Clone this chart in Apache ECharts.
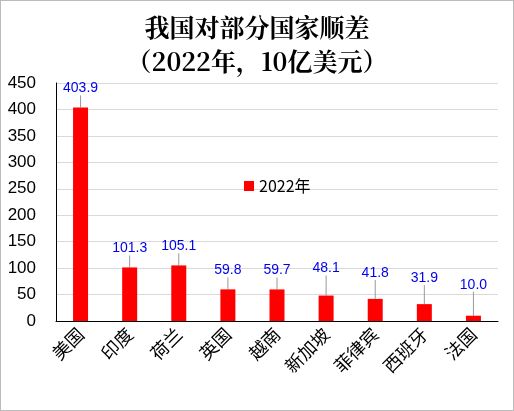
<!DOCTYPE html><html><head><meta charset="utf-8"><script src="https://cdn.jsdelivr.net/npm/echarts@6/dist/echarts.min.js"></script>
<style>html,body{margin:0;padding:0}#c{width:512px;height:409px;border:1px solid #bbb}</style></head><body><div id="c"></div><script>
const categories=['美国','印度','荷兰','英国','越南','新加坡','菲律宾','西班牙','法国'];
const values=[403.9,101.3,105.1,59.8,59.7,48.1,41.8,31.9,10.0];
const labelLift=[0,0,0,0,0,8,7,7,12];
const ch=echarts.init(document.getElementById('c'));
ch.setOption({
title:{text:'我国对部分国家顺差\n（2022年，10亿美元）',left:'center',top:4,textStyle:{fontFamily:'Noto Serif CJK SC, serif',fontSize:25,fontWeight:'bold',color:'#000',lineHeight:34}},
legend:{data:['2022年'],left:238,top:172,itemWidth:10,itemHeight:10,icon:'rect',textStyle:{fontSize:16,color:'#000',fontFamily:'Noto Sans CJK SC'}},
grid:{left:55,right:15,top:82,bottom:89},
xAxis:{type:'category',data:categories,axisTick:{show:false},axisLine:{lineStyle:{color:'#000'}},axisLabel:{rotate:45,fontSize:18,color:'#000',fontFamily:'Noto Sans CJK SC',interval:0,margin:10}},
yAxis:{type:'value',min:0,max:450,interval:50,splitLine:{show:true,lineStyle:{color:'#d9d9d9'}},axisLine:{show:true,lineStyle:{color:'#000'}},axisLabel:{fontSize:17,color:'#000',fontFamily:'Liberation Sans',margin:20}},
series:[{name:'2022年',type:'bar',data:values,barWidth:15,itemStyle:{color:'#ff0000'},
label:{show:true,position:'top',color:'#0000ee',fontSize:14,fontFamily:'Liberation Sans',formatter:p=>p.value.toFixed(1),distance:12},
labelLine:{show:true,lineStyle:{color:'#999',width:1}},
labelLayout:p=>({dy:-labelLift[p.dataIndex]})}]
});
</script></body></html>
